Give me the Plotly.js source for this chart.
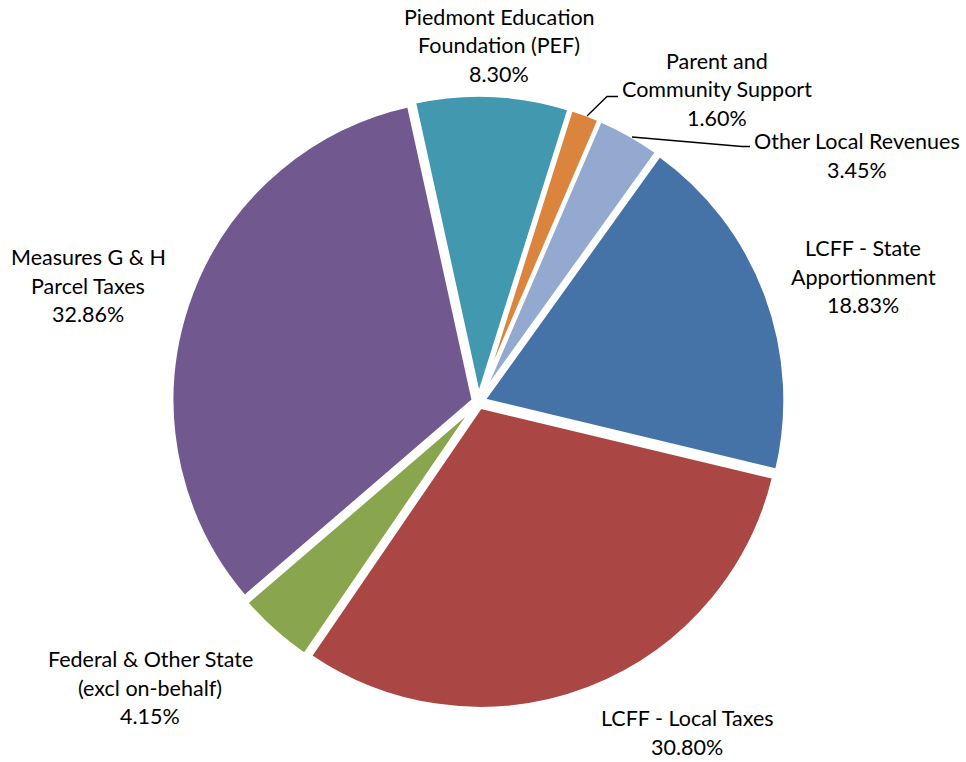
<!DOCTYPE html>
<html>
<head>
<meta charset="utf-8">
<script src="https://cdn.plot.ly/plotly-3.0.1.min.js"></script>
<style>html,body{margin:0;padding:0;background:#fff;}#chart{width:966px;height:762px;}</style>
</head>
<body>
<div id="chart"></div>
<script>
// Data
var labels = [
  "Parent and<br>Community Support",
  "Other Local Revenues",
  "LCFF - State<br>Apportionment",
  "LCFF - Local Taxes",
  "Federal & Other State<br>(excl on-behalf)",
  "Measures G & H<br>Parcel Taxes",
  "Piedmont Education<br>Foundation (PEF)"
];
var values = [1.60, 3.45, 18.83, 30.80, 4.15, 32.86, 8.30];
var colors = ["#DB843D", "#93A9CF", "#4572A7", "#AA4643", "#89A54E", "#71588F", "#4198AF"];

// Label placement (pixel centre x, first-line y)
var labelX = [717, 857, 863, 687, 150, 88, 499];
var labelY = [61, 141, 248, 718, 659, 257, 17];
var lineGap = 28.5;

var W = 966, H = 762;
function px(x) { return x / W; }
function py(y) { return 1 - y / H; }

var annotations = [];
for (var i = 0; i < labels.length; i++) {
  var lines = labels[i].split("<br>").concat([values[i].toFixed(2) + "%"]);
  for (var j = 0; j < lines.length; j++) {
    annotations.push({
      xref: "paper", yref: "paper",
      x: px(labelX[i]), y: py(labelY[i] + j * lineGap),
      xanchor: "center", yanchor: "middle",
      text: lines[j], showarrow: false,
      font: {family: "Lato, 'Open Sans', sans-serif", size: 21.5, color: "#000000"}
    });
  }
}

function pathPx(pts) {
  return pts.map(function (p, k) { return (k ? "L" : "M") + px(p[0]) + "," + py(p[1]); }).join(" ");
}
var shapes = [
  {type: "path", xref: "paper", yref: "paper", path: pathPx([[587, 116], [607, 96.5], [618, 96.5]]), line: {color: "#000", width: 1.3}},
  {type: "path", xref: "paper", yref: "paper", path: pathPx([[632, 137], [742, 146.5], [750, 146.5]]), line: {color: "#000", width: 1.3}}
];

var trace = {
  type: "pie",
  labels: labels,
  values: values,
  sort: false,
  direction: "clockwise",
  rotation: 17.5,
  pull: 0.017,
  textinfo: "none",
  hoverinfo: "label+percent",
  marker: {colors: colors, line: {color: "#ffffff", width: 4}},
  domain: {x: [0.1774, 0.8133], y: [0.0694, 0.8755]}
};

var layout = {
  width: W, height: H,
  margin: {l: 0, r: 0, t: 0, b: 0},
  showlegend: false,
  paper_bgcolor: "#ffffff",
  annotations: annotations,
  shapes: shapes
};

Plotly.newPlot("chart", [trace], layout, {displayModeBar: false, staticPlot: true});
</script>
</body>
</html>
